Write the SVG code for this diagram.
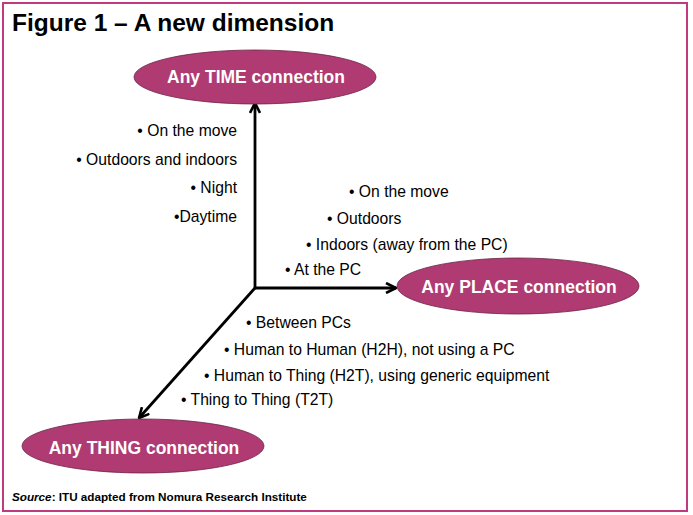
<svg xmlns="http://www.w3.org/2000/svg" width="693" height="515" viewBox="0 0 693 515">
<style>
.t{font-family:"Liberation Sans",Arial,sans-serif;font-size:15.7px;fill:#000}
.r{text-anchor:end}
.n{fill:#B03A72;stroke:#6a2345;stroke-width:0.8}
.nl{font-family:"Liberation Sans",Arial,sans-serif;font-size:17.5px;font-weight:bold;fill:#fff;text-anchor:middle}
.c{stroke:#000;stroke-width:2.8;fill:none}
</style>
<defs>
<marker id="ah" viewBox="0 0 12 12" refX="11" refY="6" markerWidth="12" markerHeight="12" markerUnits="userSpaceOnUse" orient="auto">
<path d="M1,1 L11,6 L1,11" fill="none" stroke="#000" stroke-width="2.6"/>
</marker>
</defs>
<rect x="0" y="0" width="693" height="515" fill="#fff"/>
<rect x="3" y="3" width="684" height="508" fill="none" stroke="#C03A80" stroke-width="2"/>
<text x="12" y="31" font-family="Liberation Sans,Arial,sans-serif" font-size="24.5" font-weight="bold" fill="#000">Figure 1 – A new dimension</text>
<g id="connectors">
<path class="c" d="M255,288 L255,103" marker-end="url(#ah)"/>
<path class="c" d="M255,288 L396,288" marker-end="url(#ah)"/>
<path class="c" d="M255,288 L139,418" marker-end="url(#ah)"/>
</g>
<g id="time">
<ellipse class="n" cx="255" cy="77" rx="121" ry="27"/>
<text class="nl" x="256" y="83">Any TIME connection</text>
</g>
<g id="place">
<ellipse class="n" cx="518" cy="286" rx="121" ry="28"/>
<text class="nl" x="519" y="293">Any PLACE connection</text>
</g>
<g id="thing">
<ellipse class="n" cx="143" cy="446" rx="121" ry="27"/>
<text class="nl" x="144" y="454">Any THING connection</text>
</g>
<g id="time-labels">
<text class="t r" x="237" y="135.5">• On the move</text>
<text class="t r" x="237" y="164.5">• Outdoors and indoors</text>
<text class="t r" x="237" y="192.5">• Night</text>
<text class="t r" x="237" y="221.5">•Daytime</text>
</g>
<g id="place-labels">
<text class="t" x="349" y="196.5">• On the move</text>
<text class="t" x="327" y="223.5">• Outdoors</text>
<text class="t" x="306" y="249.5">• Indoors (away from the PC)</text>
<text class="t" x="285" y="274.5">• At the PC</text>
</g>
<g id="thing-labels">
<text class="t" x="246" y="327.5">• Between PCs</text>
<text class="t" x="224" y="354.5">• Human to Human (H2H), not using a PC</text>
<text class="t" x="204" y="380.5">• Human to Thing (H2T), using generic equipment</text>
<text class="t" x="181" y="404.5">• Thing to Thing (T2T)</text>
</g>
<text x="12" y="501" font-family="Liberation Sans,Arial,sans-serif" font-size="11.7" font-weight="bold" fill="#000"><tspan font-style="italic">Source</tspan>: ITU adapted from Nomura Research Institute</text>
</svg>
